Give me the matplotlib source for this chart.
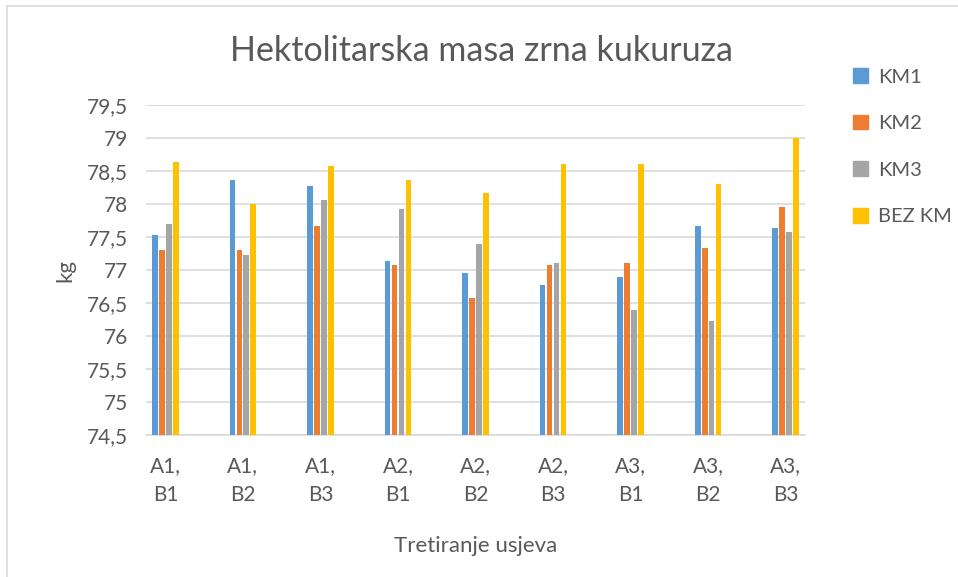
import numpy as np
import matplotlib.pyplot as plt
from matplotlib.patches import Patch
from matplotlib.lines import Line2D
from matplotlib.ticker import FuncFormatter

plt.rcParams['font.family'] = ['Lato', 'DejaVu Sans']

categories = ['A1,\nB1', 'A1,\nB2', 'A1,\nB3', 'A2,\nB1', 'A2,\nB2',
              'A2,\nB3', 'A3,\nB1', 'A3,\nB2', 'A3,\nB3']
series = ['KM1', 'KM2', 'KM3', 'BEZ KM']
km1 = [77.53, 78.36, 78.27, 77.13, 76.96, 76.77, 76.90, 77.67, 77.63]
km2 = [77.30, 77.30, 77.67, 77.07, 76.57, 77.07, 77.10, 77.33, 77.96]
km3 = [77.70, 77.23, 78.06, 77.93, 77.40, 77.10, 76.40, 76.23, 77.57]
bez_km = [78.63, 78.00, 78.57, 78.37, 78.16, 78.60, 78.60, 78.30, 79.00]
colors = ['#5B9BD5', '#ED7D31', '#A5A5A5', '#FFC000']

text_col = '#595959'
base = 74.5

fig = plt.figure(figsize=(9.58, 5.77), dpi=100)
ax = fig.add_axes([146/958, 1 - 435/577, (805 - 146)/958, (435 - 105)/577])

x = np.arange(len(categories))
step = 0.09
for i, (vals, c) in enumerate(zip([km1, km2, km3, bez_km], colors)):
    v = np.array(vals)
    ax.bar(x + (i - 1.5)*step, v - base, bottom=base, width=0.075,
           color=c, zorder=3)

ax.set_xlim(-0.25, 8.25)
ax.set_ylim(74.5, 79.5)
ax.set_yticks(np.arange(74.5, 79.51, 0.5))
ax.yaxis.set_major_formatter(FuncFormatter(lambda v, p: f'{v:g}'.replace('.', ',')))
ax.set_xticks(x)
ax.set_xticklabels(categories, linespacing=1.6)
ax.grid(axis='y', color='#D9D9D9', linewidth=1.2, zorder=0)
for s in ['top', 'right', 'left']:
    ax.spines[s].set_visible(False)
ax.spines['bottom'].set_color('#D9D9D9')
ax.spines['bottom'].set_linewidth(1.2)
ax.tick_params(length=0, colors=text_col, labelsize=15)
ax.tick_params(axis='x', pad=15)
ax.tick_params(axis='y', pad=13)

ax.set_ylabel('kg', fontsize=16, color=text_col, labelpad=8)
ax.set_xlabel('Tretiranje usjeva', fontsize=16, color=text_col, labelpad=22)
fig.text(482/958, 1 - 51/577, 'Hektolitarska masa zrna kukuruza',
         fontsize=24.5, color=text_col, ha='center', va='center')

handles = [Patch(color=c, label=s) for c, s in zip(colors, series)]
leg = fig.legend(handles=handles, loc='upper left',
                 bbox_to_anchor=(835/958, 1 - 50/577), frameon=False,
                 fontsize=14.5, labelcolor=text_col, handlelength=0.75,
                 handleheight=0.75, handletextpad=0.5, labelspacing=1.45)

# chart area border (left and top only visible)
fig.add_artist(Line2D([7/958, 7/958], [0, 1 - 6/577], color='#D9D9D9',
                      linewidth=1.2, transform=fig.transFigure))
fig.add_artist(Line2D([7/958, 1], [1 - 6/577, 1 - 6/577], color='#D9D9D9',
                      linewidth=1.2, transform=fig.transFigure))

fig.savefig('out.png', dpi=100)
